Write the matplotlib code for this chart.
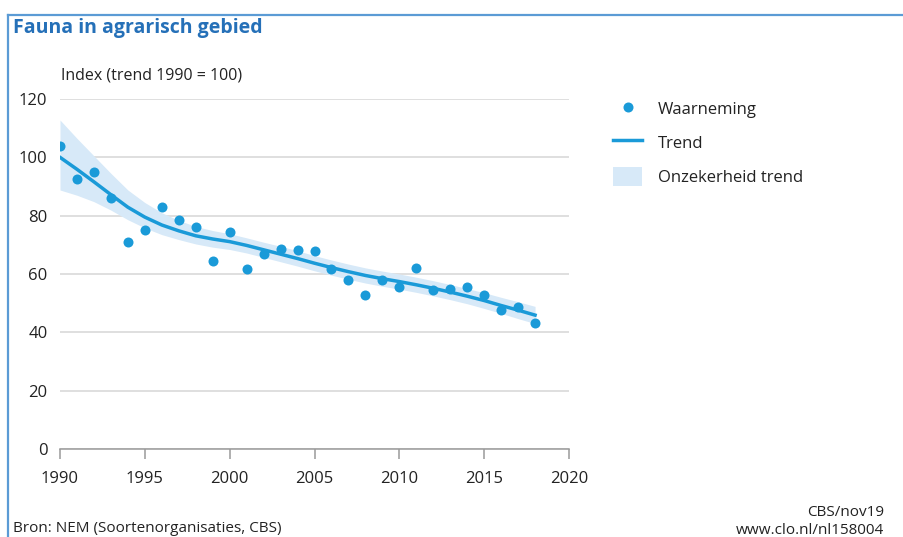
import matplotlib.pyplot as plt
from matplotlib.lines import Line2D

plt.rcParams['font.family'] = ['Open Sans', 'DejaVu Sans']

years = list(range(1990, 2019))
waarneming = [104.0, 92.6, 95.0, 86.0, 71.0, 75.0, 83.0, 78.5, 76.0, 64.5,
              74.4, 61.7, 66.8, 68.6, 68.2, 67.9, 61.7, 57.8, 52.8, 57.8,
              55.7, 62.1, 54.4, 54.8, 55.4, 52.8, 47.6, 48.8, 43.1]
trend = [100.0, 95.9, 91.6, 87.2, 82.9, 79.5, 76.8, 74.8, 73.1, 72.0,
         71.1, 69.8, 68.3, 66.8, 65.3, 63.7, 62.2, 60.8, 59.5, 58.4,
         57.4, 56.3, 55.1, 53.8, 52.4, 50.9, 49.2, 47.6, 45.9]
trend_hoog = [112.8, 106.5, 100.5, 94.5, 88.8, 84.5, 81.0, 78.4, 76.3, 74.9,
              73.8, 72.4, 70.9, 69.5, 68.0, 66.3, 64.8, 63.4, 62.1, 61.0,
              60.0, 58.9, 57.7, 56.4, 55.0, 53.6, 52.0, 50.5, 48.9]
trend_laag = [88.8, 87.0, 84.8, 81.9, 78.6, 75.8, 73.5, 71.8, 70.3, 69.2,
              68.4, 67.2, 65.7, 64.2, 62.7, 61.1, 59.6, 58.2, 56.9, 55.8,
              54.8, 53.7, 52.5, 51.2, 49.8, 48.2, 46.5, 44.7, 43.0]

blauw = '#1a9ad8'
band = '#d7e9f8'
kop = '#2570b8'
tekst = '#222222'

fig = plt.figure(figsize=(9.04, 5.37), dpi=100)
ax = fig.add_axes([60 / 904, 1 - 449 / 537, 509 / 904, 350 / 537])

onzeker = ax.fill_between(years, trend_laag, trend_hoog, color=band, lw=0, zorder=1)
lijn, = ax.plot(years, trend, color=blauw, lw=2.5, zorder=3)
punten = ax.scatter(years, waarneming, s=52, color=blauw, lw=0, zorder=4)

ax.set_xlim(1990, 2020)
ax.set_ylim(0, 120)
ax.set_xticks(range(1990, 2021, 5))
ax.set_yticks(range(0, 121, 20))
ax.grid(axis='y', color='#d6d6d6', lw=1.1, zorder=0)
ax.set_axisbelow(True)
for side in ['top', 'right', 'left']:
    ax.spines[side].set_visible(False)
ax.spines['bottom'].set_color('#9a9a9a')
ax.spines['bottom'].set_linewidth(1.1)
ax.tick_params(axis='x', length=7, width=1.1, color='#9a9a9a', pad=9,
               labelsize=12, labelcolor=tekst)
ax.tick_params(axis='y', length=0, pad=9, labelsize=12, labelcolor=tekst)

fig.text(61 / 904, 1 - 76 / 537, 'Index (trend 1990 = 100)', fontsize=11.5,
         color=tekst, va='center', ha='left')
fig.text(13 / 904, 1 - 28 / 537, 'Fauna in agrarisch gebied', fontsize=14,
         fontweight='bold', color=kop, va='center', ha='left')

fig.text(13 / 904, 1 - 529 / 537, 'Bron: NEM (Soortenorganisaties, CBS)',
         fontsize=11, color=tekst, va='center', ha='left')
fig.text(884 / 904, 1 - 512 / 537, 'CBS/nov19', fontsize=11, color=tekst,
         va='center', ha='right')
fig.text(884 / 904, 1 - 530 / 537, 'www.clo.nl/nl158004', fontsize=11,
         color=tekst, va='center', ha='right')

# frame: top and left border
fig.add_artist(Line2D([8 / 904, 1], [1 - 15 / 537, 1 - 15 / 537],
                      transform=fig.transFigure, color='#5b9bd5', lw=1.6))
fig.add_artist(Line2D([8 / 904, 8 / 904], [0, 1 - 15 / 537],
                      transform=fig.transFigure, color='#5b9bd5', lw=1.6))

fig.legend([punten, lijn, onzeker],
           ['Waarneming', 'Trend', 'Onzekerheid trend'],
           loc='upper left', bbox_to_anchor=(613 / 904, 1 - 99 / 537),
           frameon=False, fontsize=12, handlelength=1.75, handleheight=1.35,
           handletextpad=0.95, labelspacing=0.9, labelcolor=tekst,
           scatterpoints=1, borderaxespad=0, borderpad=0)

fig.savefig('out.png', dpi=100, facecolor='white')
